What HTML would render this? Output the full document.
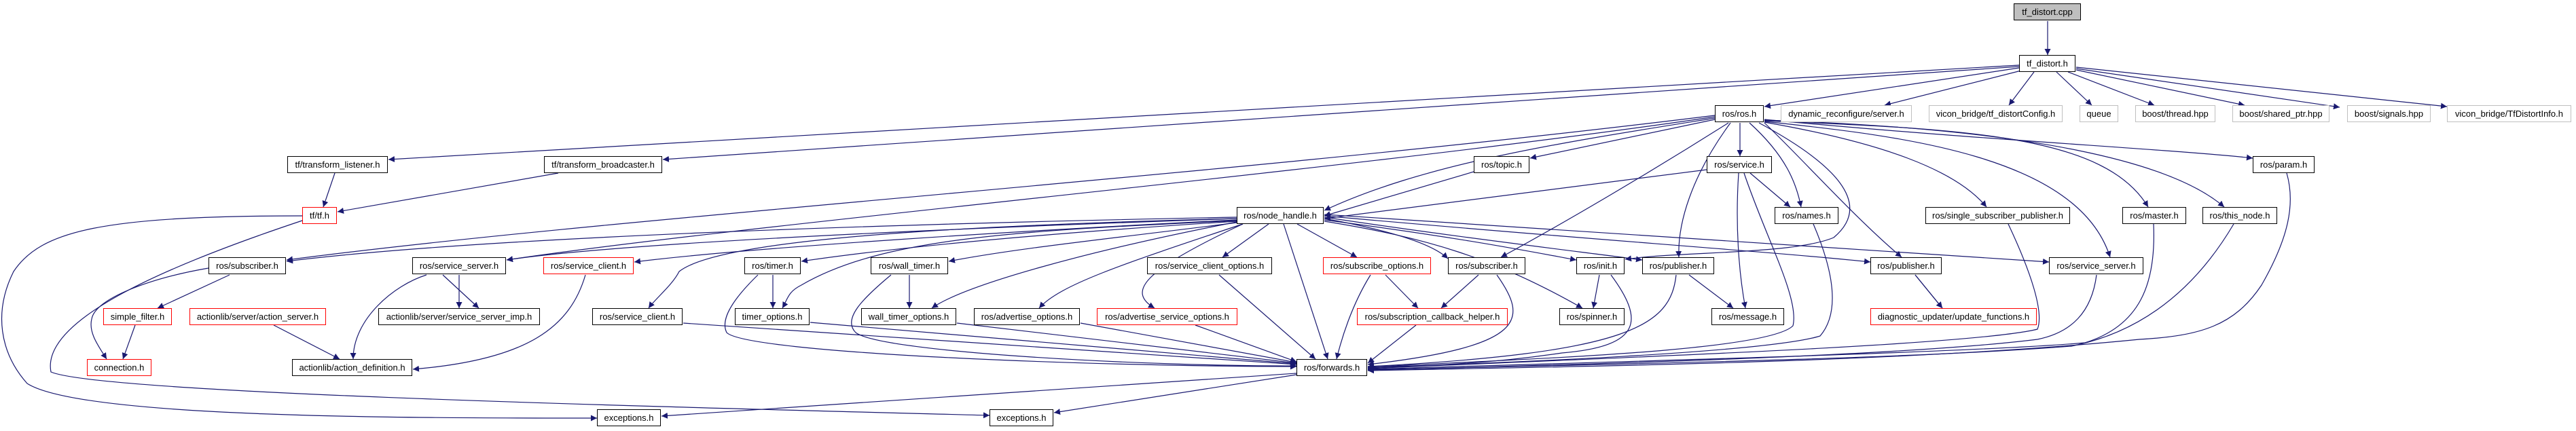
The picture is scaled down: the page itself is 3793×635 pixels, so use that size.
<!DOCTYPE html>
<html><head><meta charset="utf-8"><style>
html,body{margin:0;padding:0;background:#fff;}
body{width:3793px;height:635px;position:relative;overflow:hidden;font-family:"Liberation Sans",sans-serif;}
.n{position:absolute;height:23px;border:1.5px solid #000;background:#fff;font-size:13px;line-height:23px;text-align:center;white-space:nowrap;box-sizing:content-box;color:#000;}
.r{border-color:#ff0000;}
.g{border-color:#bfbfbf;}
svg{position:absolute;left:0;top:0;}
</style></head><body>
<svg width="3793" height="635" viewBox="0 0 3793 635">
<defs><marker id="a" viewBox="0 0 10 10" refX="10" refY="5" markerWidth="9" markerHeight="9" markerUnits="userSpaceOnUse" orient="auto"><path d="M0,0 L10,5 L0,10 z" fill="#191970"/></marker></defs>
<g fill="none" stroke="#191970" stroke-width="1.2" marker-end="url(#a)">
<path d="M3015,31 L3015,81"/>
<path d="M2973,96 L572,235"/>
<path d="M2973,98 L976,235"/>
<path d="M2973,100 L2598,157"/>
<path d="M2976,104 L2775,155"/>
<path d="M2995,106 L2958,155"/>
<path d="M3028,106 L3080,155"/>
<path d="M3045,106 L3172,155"/>
<path d="M3057,103 L3305,155"/>
<path d="M3057,101 L3445,158"/>
<path d="M3057,99 L3603,157"/>
<path d="M493,255 L476,305"/>
<path d="M822,255 L497,312"/>
<path d="M445,318 C150,318 60,340 20,400 C -10,460 0,520 40,565 C 120,616 600,616 879,616"/>
<path d="M445,325 C250,390 60,470 75,548 C 150,580 1000,600 1457,612"/>
<path d="M2525,170 C1800,260 900,320 422,383"/>
<path d="M2525,172 C2000,250 1100,330 746,383"/>
<path d="M2525,174 C2300,210 2100,240 1950,310"/>
<path d="M2525,176 L2253,233"/>
<path d="M2562,181 L2562,230"/>
<path d="M2576,181 C2630,230 2645,270 2652,305"/>
<path d="M2545,181 C2420,260 2300,330 2210,379"/>
<path d="M2548,181 C2490,260 2470,330 2472,379"/>
<path d="M2590,181 C2700,240 2760,300 2700,350 C2640,375 2480,370 2393,382"/>
<path d="M2598,181 C2650,230 2730,320 2800,379"/>
<path d="M2598,180 C2770,210 2880,250 2925,305"/>
<path d="M2598,179 C2800,200 3060,230 3107,379"/>
<path d="M2598,178 C2900,190 3100,200 3163,305"/>
<path d="M2598,177 C3000,190 3200,240 3275,305"/>
<path d="M2598,176 C2900,205 3200,220 3317,233"/>
<path d="M2170,253 L1950,318"/>
<path d="M2513,250 L1950,322"/>
<path d="M2577,255 L2636,305"/>
<path d="M2560,255 C2555,330 2560,400 2570,454"/>
<path d="M2568,255 C2600,350 2650,440 2640,480 C2600,520 2200,530 2014,541"/>
<path d="M2670,330 C2700,400 2710,460 2680,495 C2600,520 2200,535 2014,542"/>
<path d="M2957,330 C2990,400 3010,460 3000,485 C2900,510 2300,530 2014,543"/>
<path d="M3171,330 C3175,420 3150,480 3070,505 C2900,520 2300,535 2014,544"/>
<path d="M3289,330 C3230,430 3150,490 3050,510 C2800,530 2300,538 2014,545"/>
<path d="M3367,255 C3380,300 3370,350 3330,420 C3290,480 3240,495 3150,500 C2800,535 2300,540 2014,546"/>
<path d="M3087,405 C3080,460 3050,490 3000,500 C2800,525 2300,538 2014,545"/>
<path d="M2820,405 L2860,454"/>
<path d="M2487,405 L2552,454"/>
<path d="M2468,405 C2460,480 2400,520 2014,540"/>
<path d="M2355,405 L2346,454"/>
<path d="M2372,405 C2420,470 2420,510 2300,520 C2200,535 2100,540 2014,540"/>
<path d="M2177,405 L2122,454"/>
<path d="M2204,405 C2250,470 2250,510 2014,537"/>
<path d="M2040,405 L2088,454"/>
<path d="M2018,405 C1990,450 1975,500 1968,529"/>
<path d="M2085,479 L2014,535"/>
<path d="M1821,320 C1300,330 700,350 422,385"/>
<path d="M1821,322 C1300,340 900,360 746,383"/>
<path d="M1821,324 C1500,340 1100,365 934,386"/>
<path d="M1821,326 C1600,340 1350,360 1180,385"/>
<path d="M1821,328 C1650,350 1500,365 1397,385"/>
<path d="M1821,325 C1500,340 1300,350 1180,420 C1160,430 1160,440 1152,454"/>
<path d="M1821,327 C1600,370 1420,420 1372,454"/>
<path d="M1821,322 C1300,335 1050,360 1000,400 C 990,420 965,440 955,454"/>
<path d="M1830,330 C1650,390 1560,420 1530,454"/>
<path d="M1830,330 C1680,400 1660,430 1700,454"/>
<path d="M1868,330 L1800,379"/>
<path d="M1910,330 L1998,379"/>
<path d="M1890,330 L1955,529"/>
<path d="M1950,322 C2050,340 2110,360 2132,381"/>
<path d="M1950,324 C2150,350 2250,370 2321,383"/>
<path d="M1950,326 C2100,350 2200,380 2330,454"/>
<path d="M1950,320 C2150,350 2320,370 2418,383"/>
<path d="M1950,318 C2300,350 2600,370 2754,386"/>
<path d="M1950,316 C2400,345 2800,370 3017,386"/>
<path d="M652,405 L705,454"/>
<path d="M676,405 L676,454"/>
<path d="M628,405 C580,420 520,470 520,529"/>
<path d="M403,479 L500,529"/>
<path d="M338,405 L232,454"/>
<path d="M307,395 C220,410 140,440 135,470 C 130,490 145,510 157,529"/>
<path d="M199,479 L181,529"/>
<path d="M862,405 C840,480 780,530 608,544"/>
<path d="M1116,405 C1080,440 1060,470 1070,490 C1100,520 1600,540 1909,540"/>
<path d="M1138,405 L1138,454"/>
<path d="M1312,405 C1270,440 1240,470 1260,490 C1300,520 1700,540 1909,539"/>
<path d="M1339,405 L1339,454"/>
<path d="M1193,475 L1909,536"/>
<path d="M1409,476 L1909,535"/>
<path d="M1591,476 L1909,534"/>
<path d="M1760,479 L1909,533"/>
<path d="M1795,405 L1937,529"/>
<path d="M1006,476 L1909,537"/>
<path d="M2820,405 L2860,454"/>
<path d="M1909,550 L974,613"/>
<path d="M1909,552 L1552,608"/>
</g>
</svg>
<div class="n" style="left:2965px;top:5px;width:97px;background:#bfbfbf;">tf_distort.cpp</div>
<div class="n" style="left:2973px;top:81px;width:81px;">tf_distort.h</div>
<div class="n" style="left:423px;top:230px;width:146px;">tf/transform_listener.h</div>
<div class="n" style="left:801px;top:230px;width:172px;">tf/transform_broadcaster.h</div>
<div class="n r" style="left:445px;top:305px;width:49px;">tf/tf.h</div>
<div class="n" style="left:307px;top:379px;width:112px;">ros/subscriber.h</div>
<div class="n" style="left:607px;top:379px;width:136px;">ros/service_server.h</div>
<div class="n r" style="left:800px;top:379px;width:131px;">ros/service_client.h</div>
<div class="n r" style="left:152px;top:454px;width:99px;">simple_filter.h</div>
<div class="n r" style="left:279px;top:454px;width:199px;">actionlib/server/action_server.h</div>
<div class="n" style="left:557px;top:454px;width:236px;">actionlib/server/service_server_imp.h</div>
<div class="n" style="left:872px;top:454px;width:131px;">ros/service_client.h</div>
<div class="n r" style="left:128px;top:529px;width:93px;">connection.h</div>
<div class="n" style="left:430px;top:529px;width:175px;">actionlib/action_definition.h</div>
<div class="n" style="left:879px;top:603px;width:92px;">exceptions.h</div>
<div class="n" style="left:1457px;top:603px;width:92px;">exceptions.h</div>
<div class="n" style="left:1096px;top:379px;width:81px;">ros/timer.h</div>
<div class="n" style="left:1282px;top:379px;width:112px;">ros/wall_timer.h</div>
<div class="n" style="left:1689px;top:379px;width:182px;">ros/service_client_options.h</div>
<div class="n r" style="left:1948px;top:379px;width:157px;">ros/subscribe_options.h</div>
<div class="n" style="left:1082px;top:454px;width:108px;">timer_options.h</div>
<div class="n" style="left:1268px;top:454px;width:138px;">wall_timer_options.h</div>
<div class="n" style="left:1434px;top:454px;width:154px;">ros/advertise_options.h</div>
<div class="n r" style="left:1615px;top:454px;width:205px;">ros/advertise_service_options.h</div>
<div class="n r" style="left:1998px;top:454px;width:220px;">ros/subscription_callback_helper.h</div>
<div class="n" style="left:1821px;top:305px;width:126px;">ros/node_handle.h</div>
<div class="n" style="left:1909px;top:529px;width:102px;">ros/forwards.h</div>
<div class="n" style="left:2525px;top:155px;width:70px;">ros/ros.h</div>
<div class="n g" style="left:2622px;top:155px;width:191px;">dynamic_reconfigure/server.h</div>
<div class="n g" style="left:2840px;top:155px;width:195px;">vicon_bridge/tf_distortConfig.h</div>
<div class="n" style="left:2170px;top:230px;width:80px;">ros/topic.h</div>
<div class="n" style="left:2513px;top:230px;width:94px;">ros/service.h</div>
<div class="n" style="left:2613px;top:305px;width:92px;">ros/names.h</div>
<div class="n" style="left:2835px;top:305px;width:211px;">ros/single_subscriber_publisher.h</div>
<div class="n" style="left:2132px;top:379px;width:112px;">ros/subscriber.h</div>
<div class="n" style="left:2321px;top:379px;width:69px;">ros/init.h</div>
<div class="n" style="left:2418px;top:379px;width:104px;">ros/publisher.h</div>
<div class="n" style="left:2754px;top:379px;width:103px;">ros/publisher.h</div>
<div class="n" style="left:2296px;top:454px;width:94px;">ros/spinner.h</div>
<div class="n" style="left:2520px;top:454px;width:105px;">ros/message.h</div>
<div class="n r" style="left:2754px;top:454px;width:243px;">diagnostic_updater/update_functions.h</div>
<div class="n g" style="left:3062px;top:155px;width:55px;">queue</div>
<div class="n g" style="left:3144px;top:155px;width:116px;">boost/thread.hpp</div>
<div class="n g" style="left:3287px;top:155px;width:141px;">boost/shared_ptr.hpp</div>
<div class="n g" style="left:3456px;top:155px;width:121px;">boost/signals.hpp</div>
<div class="n g" style="left:3603px;top:155px;width:181px;">vicon_bridge/TfDistortInfo.h</div>
<div class="n" style="left:3317px;top:230px;width:89px;">ros/param.h</div>
<div class="n" style="left:3125px;top:305px;width:92px;">ros/master.h</div>
<div class="n" style="left:3243px;top:305px;width:108px;">ros/this_node.h</div>
<div class="n" style="left:3017px;top:379px;width:137px;">ros/service_server.h</div>
</body></html>
